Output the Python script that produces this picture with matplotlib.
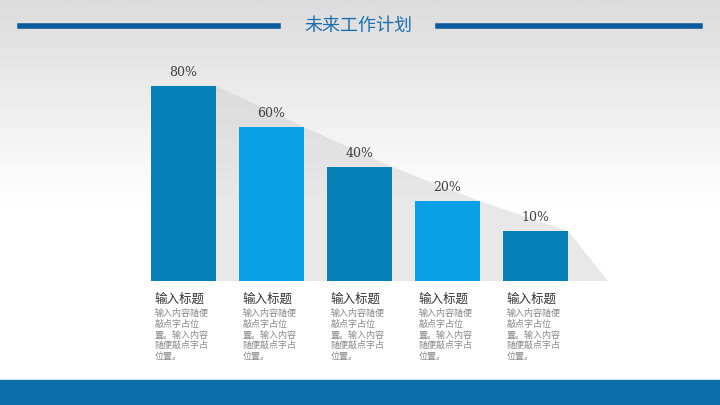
import matplotlib.pyplot as plt
import numpy as np
from matplotlib.patches import Polygon, Rectangle

plt.rcParams['font.family'] = ['Noto Sans CJK SC', 'DejaVu Sans']

labels = ['80%', '60%', '40%', '20%', '10%']
heights = [80, 63.2, 46.8, 32.8, 20.5]   # visual bar heights as drawn
titles = ['输入标题'] * 5
desc = '输入内容随便\n敲点字占位\n置。输入内容\n随便敲点字占\n位置。'
colors = ['#0780b8', '#0aa0e6', '#0780b8', '#0aa0e6', '#0780b8']
xpos = [183.5, 271.5, 359.5, 447.5, 535.5]

px = 195 / 80.0
fig = plt.figure(figsize=(7.2, 4.05), dpi=100)
ax = fig.add_axes([0, 0, 1, 1])
ax.set_xlim(0, 720)
ax.set_ylim(-(405 - 281) / px, 281 / px)
ax.axis('off')

# background gradient
grad = np.linspace(0, 1, 256).reshape(-1, 1)
ax.imshow(grad, extent=[0, 720, -(405 - 281) / px, 281 / px], aspect='auto',
          cmap=plt.matplotlib.colors.LinearSegmentedColormap.from_list('g', ['#ffffff', '#ffffff', '#dcdcdc']),
          origin='lower', zorder=0)

# diagonal shadow
w = 65
pts = [(xpos[0] - w / 2, heights[0])]
for x, h in zip(xpos, heights):
    pts.append((x + w / 2, h))
pts.append((xpos[-1] + w / 2 + 40, 0))
pts.append((xpos[0] - w / 2, 0))
ax.add_patch(Polygon(pts, closed=True, color='#bfbfbf', alpha=0.35, lw=0, zorder=1))

ax.bar(xpos, heights, width=w, color=colors, zorder=2)
for x, h, l in zip(xpos, heights, labels):
    ax.text(x, h + 3, l, ha='center', va='bottom', fontsize=9, color='#404040',
            family=['DejaVu Serif'], zorder=3)
for x, t in zip(xpos, titles):
    ax.text(x - 29, -5, t, ha='left', va='top', fontsize=9, color='#333333', zorder=3)
    ax.text(x - 29, -11.5, desc, ha='left', va='top', fontsize=6.5, color='#888888',
            linespacing=1.25, zorder=3)

def ypix(p):
    return (281 - p) / px

# bottom band
ax.add_patch(Rectangle((0, ypix(405)), 720, (405 - 380) / px, color='#0a6fa8', zorder=3))
# title and lines
ax.plot([20, 278], [ypix(26), ypix(26)], color='#0a5a9c', lw=4, zorder=3)
ax.plot([438, 700], [ypix(26), ypix(26)], color='#0a5a9c', lw=4, zorder=3)
ax.text(358, ypix(26), '未来工作计划', ha='center', va='center', fontsize=13,
        color='#1a6fb0', zorder=3)

fig.savefig('out.png', dpi=100)
